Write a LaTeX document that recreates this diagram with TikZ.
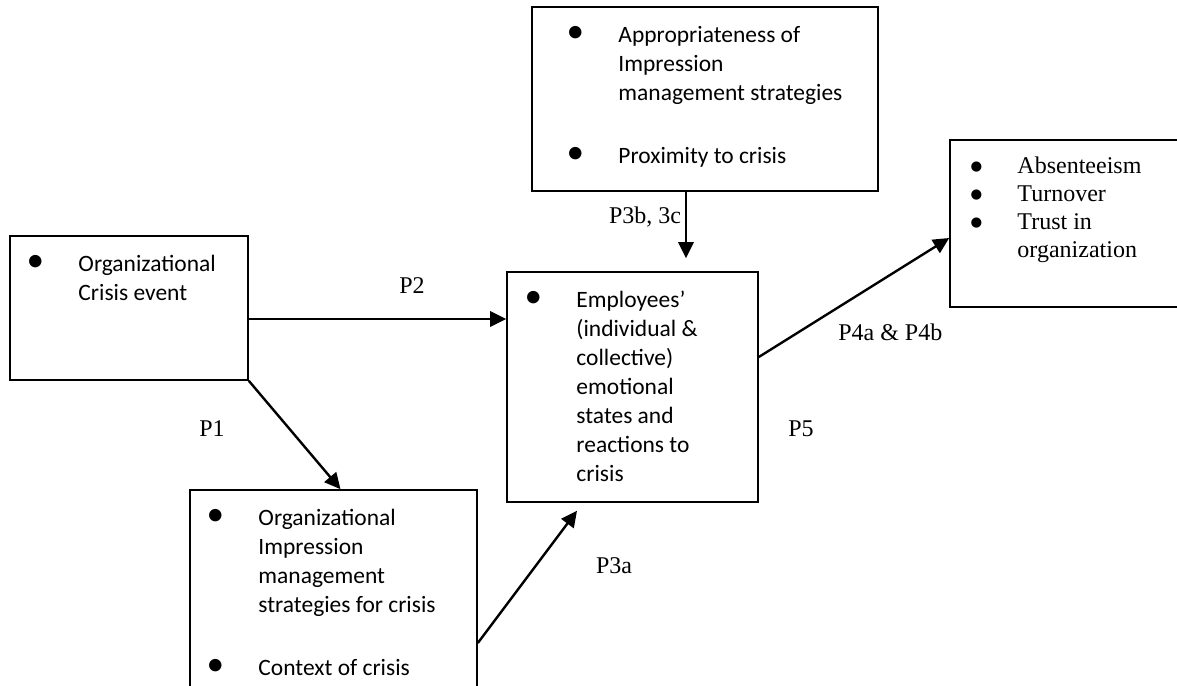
\documentclass[tikz,border=0pt]{standalone}
\usepackage{fontspec}
\setmainfont{Liberation Serif}
\newfontfamily\calibri{Carlito}
\newfontfamily\dejavu{DejaVu Sans}
\usepackage{graphicx}
\usetikzlibrary{arrows.meta,calc}
% bullets hang to the left of the text start
\newcommand\itm{\llap{\makebox[0pt]{\scalebox{1.5}{\textbullet}}\hspace{32.25pt}}}
\newcommand\titm{\llap{\makebox[0pt]{\raisebox{2.3pt}{\dejavu\fontsize{10}{10}\selectfont ●}}\hspace{30.75pt}}}

\begin{document}
\begin{tikzpicture}[x=.75pt,y=-.75pt,>={Triangle[length=12pt,width=11.5pt]},
  box/.style={draw,line width=1.2pt,inner sep=0pt},
  txt/.style={anchor=base west,inner sep=0pt,font=\calibri\fontsize{17.6}{21.75}\selectfont},
  ttxt/.style={anchor=base west,inner sep=0pt,font=\fontsize{18}{21}\selectfont},
  lbl/.style={anchor=base,inner sep=0pt,font=\fontsize{18}{21}\selectfont},
  arr/.style={->,line width=1.8pt}]
\clip (0,0) rectangle (1177,685);

% boxes
\node[box,minimum width=178.5pt,minimum height=108pt] (crisis) at (129,308) {};
\node[box,minimum width=259.5pt,minimum height=138pt] (approp) at (705,99) {};
\node[box,minimum width=188.25pt,minimum height=172.5pt] (react) at (632.5,387) {};
\node[box,minimum width=176.25pt,minimum height=125.25pt] (outcome) at (1067.5,223.5) {};
\node[box,minimum width=215.25pt,minimum height=153.75pt] (strat) at (333.5,592.5) {};

% box texts
\node[txt] (crisis-t) at ($(crisis.north west)+(69,36)$) {\begin{tabular}[t]{@{}l@{}}
  \itm Organizational\\Crisis event\end{tabular}};
\node[txt] (approp-t) at ($(approp.north west)+(87,36)$) {\begin{tabular}[t]{@{}l@{}}
  \itm Appropriateness of\\Impression\\management strategies\\[26pt]
  \itm Proximity to crisis\end{tabular}};
\node[txt] (react-t) at ($(react.north west)+(70,36)$) {\begin{tabular}[t]{@{}l@{}}
  \itm Employees’\\(individual \&\\collective)\\emotional\\states and\\reactions to\\crisis\end{tabular}};
\node[txt] (strat-t) at ($(strat.north west)+(69,36)$) {\begin{tabular}[t]{@{}l@{}}
  \itm Organizational\\Impression\\management\\strategies for crisis\\[26pt]
  \itm Context of crisis\end{tabular}};
\node[ttxt] (outcome-t) at ($(outcome.north west)+(68,34)$) {\begin{tabular}[t]{@{}l@{}}
  \titm Absenteeism\\\titm Turnover\\\titm Trust in\\organization\end{tabular}};

% arrows
\draw[arr] ($(crisis.east)+(0,11)$) -- ($(react.west)+(0,-68)$);
\draw[arr] (crisis.south east) -- ($(strat.north)+(7,0)$);
\draw[arr] ($(strat.east)+(0,50.5)$) -- ($(react.south)+(-55.5,8)$);
\draw[arr] ($(approp.south)+(-19,0)$) -- ($(react.north)+(53.5,-13)$);
\draw[arr] ($(react.east)+(0,-30)$) -- ($(outcome.west)+(0,14.5)$);

% labels
\node[lbl] (p2) at (412,293) {P2};
\node[lbl] (p1) at (212,436) {P1};
\node[lbl] (p3a) at (614,573) {P3a};
\node[lbl] (p3bc) at (645,223) {P3b, 3c};
\node[lbl,anchor=base west] (p4) at (838,340) {P4a \& P4b};
\node[lbl] (p5) at (801,436) {P5};
\end{tikzpicture}
\end{document}
